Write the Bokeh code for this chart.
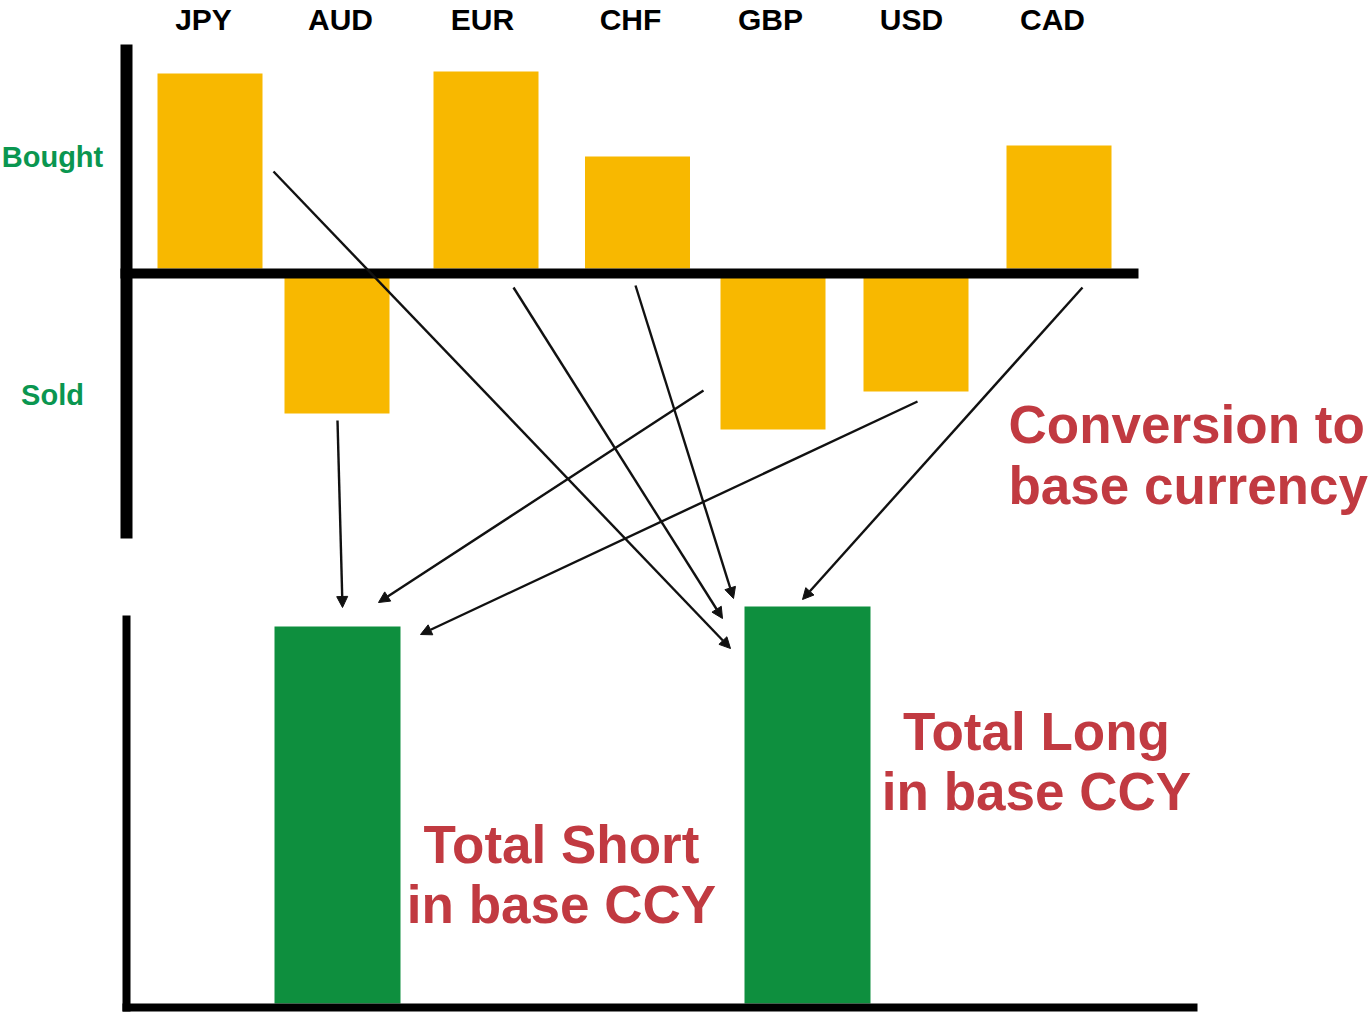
from bokeh.plotting import figure
from bokeh.models import Range1d, ColumnDataSource, Arrow, NormalHead
from bokeh.core.properties import value
from bokeh.embed import file_html
from bokeh.resources import INLINE

# ---------------- data ----------------
currencies = ["JPY", "AUD", "EUR", "CHF", "GBP", "USD", "CAD"]
# positive = bought, negative = sold (top chart units)
positions = [195, -137, 197, 112, -153, -115, 123]
side_labels = ["Bought", "Sold"]
total_names = ["Total Short", "Total Long"]
totals = [377, 397]  # bottom chart units
# conversion arrows: currency -> total
arrow_from = ["JPY", "AUD", "EUR", "CHF", "GBP", "USD", "CAD"]
arrow_to = ["Total Long", "Total Short", "Total Long", "Total Long",
            "Total Short", "Total Short", "Total Long"]
note_lines = ["Conversion to", "base currency"]
short_lines = ["Total Short", "in base CCY"]
long_lines = ["Total Long", "in base CCY"]

# ---------------- layout (picture pixel space) ----------------
W, H = 1372, 1013
bar_x = [209.5, 336.5, 485.5, 637, 772.5, 915.5, 1058.5]
label_x = [203, 340, 482, 630, 770, 911, 1052]
bar_w = 105
top_base_up, top_base_down = 268, 276
tot_x = [337, 807]
tot_w = 126
bot_base = 1003
arrow_start = {"JPY": (273, 171), "AUD": (337, 420), "EUR": (513, 287), "CHF": (635, 285),
               "GBP": (703, 390), "USD": (917, 401), "CAD": (1082, 287)}
arrow_end = {"JPY": (730, 648), "AUD": (342, 607), "EUR": (722, 618), "CHF": (733, 598),
             "GBP": (378, 602), "USD": (420, 634), "CAD": (802, 599)}

ORANGE = "#F8B800"
GREEN_BAR = "#0E8F3E"
GREEN_TXT = "#0A9650"
RED = "#C13A41"

p = figure(width=W, height=H, x_range=Range1d(0, W), y_range=Range1d(H, 0),
           output_backend="svg", toolbar_location=None, min_border=0,
           outline_line_color=None, background_fill_color="white", border_fill_color="white")
p.axis.visible = False
p.grid.visible = False

# top chart bars
tops, bottoms = [], []
for v in positions:
    if v >= 0:
        tops.append(top_base_up - v); bottoms.append(top_base_up)
    else:
        tops.append(top_base_down); bottoms.append(top_base_down - v)
src = ColumnDataSource(dict(x=bar_x, top=tops, bottom=bottoms, cur=currencies))
p.vbar(x="x", width=bar_w, top="top", bottom="bottom", source=src,
       fill_color=ORANGE, line_color=None)

# top axes
p.quad(left=[120, 120], right=[132, 1138], top=[44, 268], bottom=[538, 278],
       fill_color="black", line_color=None)

# currency labels
p.text(x=label_x, y=[19] * len(currencies), text=currencies,
       text_font=value("Liberation Sans"), text_font_style="bold", text_font_size="30px",
       text_align="center", text_baseline="alphabetic", text_color="black")

# side labels
p.text(x=[52, 52], y=[156, 394], text=side_labels,
       text_font=value("Liberation Sans"), text_font_style="bold", text_font_size="29px",
       text_align="center", text_baseline="alphabetic", text_color=GREEN_TXT)

# bottom chart bars
tsrc = ColumnDataSource(dict(x=tot_x, top=[bot_base - t for t in totals],
                             bottom=[bot_base] * 2, name=total_names))
p.vbar(x="x", width=tot_w, top="top", bottom="bottom", source=tsrc,
       fill_color=GREEN_BAR, line_color=None)

# bottom axes
p.quad(left=[122, 122], right=[130, 1197], top=[615, 1003], bottom=[1011, 1011],
       fill_color="black", line_color=None)

# arrows
asrc = ColumnDataSource(dict(
    x0=[arrow_start[c][0] for c in arrow_from], y0=[arrow_start[c][1] for c in arrow_from],
    x1=[arrow_end[c][0] for c in arrow_from], y1=[arrow_end[c][1] for c in arrow_from]))
p.add_layout(Arrow(end=NormalHead(size=11, fill_color="#111111", line_color="#111111", line_width=1),
                   x_start="x0", y_start="y0", x_end="x1", y_end="y1", source=asrc,
                   line_color="#111111", line_width=2.4))

# red annotations
def red_text(xs, ys, lines, align):
    p.text(x=xs, y=ys, text=lines, text_font=value("Liberation Sans"),
           text_font_style="bold", text_font_size="53px", text_align=align,
           text_baseline="alphabetic", text_color=RED)

red_text([1008, 1008], [424, 485], note_lines, "left")
red_text([561, 561], [844, 904], short_lines, "center")
red_text([1036, 1036], [731, 791], long_lines, "center")

open("out.html", "w").write(file_html(p, INLINE))
